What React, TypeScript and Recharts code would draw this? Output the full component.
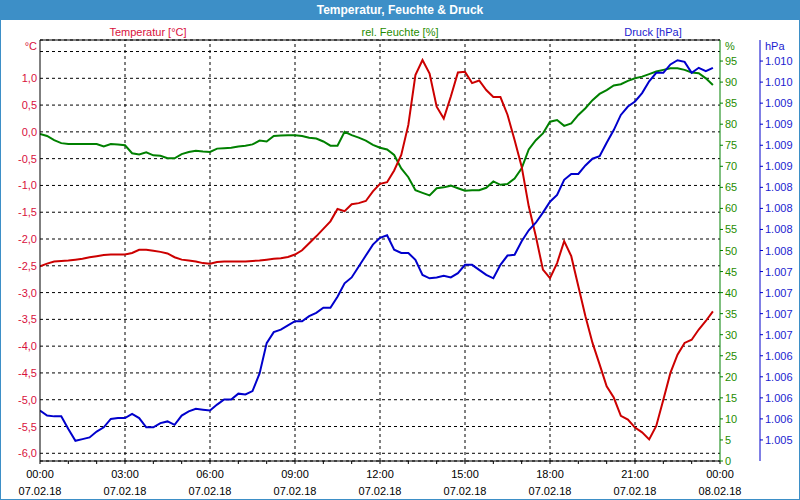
import React from "react";
import { CartesianGrid, Line, LineChart, ReferenceLine, XAxis, YAxis } from "recharts";

// hours since 07.02.18 00:00, quarter-hour readings
const hours = Array.from({ length: 96 }, (_, i) => i * 0.25);

const temperature = [
  -2.51, -2.46, -2.42, -2.41, -2.4, -2.385, -2.37, -2.34, -2.32, -2.3, -2.29, -2.29,
  -2.29, -2.26, -2.2, -2.2, -2.22, -2.24, -2.27, -2.34, -2.385, -2.4, -2.42, -2.45,
  -2.46, -2.43, -2.42, -2.42, -2.42, -2.42, -2.41, -2.4, -2.385, -2.37, -2.36, -2.335,
  -2.29, -2.21, -2.08, -1.95, -1.81, -1.67, -1.44, -1.48, -1.35, -1.33, -1.29, -1.11,
  -0.97, -0.94, -0.72, -0.43, 0.13, 1.06, 1.34, 1.09, 0.47, 0.25, 0.66, 1.11,
  1.12, 0.91, 0.96, 0.78, 0.65, 0.65, 0.32, -0.15, -0.65, -1.39, -1.95, -2.57,
  -2.73, -2.45, -2.04, -2.32, -2.88, -3.44, -3.94, -4.34, -4.75, -4.96, -5.3, -5.37,
  -5.52, -5.61, -5.74, -5.49, -5.0, -4.5, -4.16, -3.94, -3.88, -3.69, -3.53, -3.35
];

const humidity = [
  77.7, 77.2, 76.2, 75.5, 75.3, 75.3, 75.3, 75.3, 75.3, 74.7, 75.3, 75.2,
  75.0, 73.1, 72.8, 73.3, 72.6, 72.5, 71.9, 71.9, 72.9, 73.4, 73.7, 73.5,
  73.4, 74.2, 74.3, 74.4, 74.7, 74.9, 75.2, 76.1, 75.9, 77.2, 77.3, 77.4,
  77.4, 77.2, 76.8, 76.6, 75.9, 74.9, 74.9, 78.2, 77.4, 76.8, 76.1, 75.1,
  74.4, 74.0, 72.7, 69.5, 67.4, 64.3, 63.7, 63.1, 64.8, 65.0, 65.4, 64.8,
  64.2, 64.3, 64.3, 64.9, 66.4, 65.6, 65.8, 67.1, 69.5, 74.0, 76.2, 77.8,
  80.6, 81.0, 79.6, 80.2, 82.2, 83.8, 85.7, 87.2, 88.1, 89.2, 89.5, 90.3,
  90.9, 91.3, 91.9, 92.5, 92.9, 93.3, 93.3, 92.9, 92.3, 92.1, 90.9, 89.3
];

const pressure = [
  1.0056, 1.00554, 1.00553, 1.00553, 1.00538, 1.00524, 1.00526, 1.00528, 1.00535, 1.0054, 1.0055, 1.00551,
  1.00551, 1.00556, 1.00551, 1.0054, 1.0054, 1.00545, 1.00547, 1.00543, 1.00554, 1.00559, 1.00562, 1.00561,
  1.0056, 1.00567, 1.00573, 1.00573, 1.0058, 1.00579, 1.00583, 1.00604, 1.0064, 1.00653, 1.00656, 1.00661,
  1.00666, 1.00666, 1.00672, 1.00676, 1.00682, 1.00682, 1.00695, 1.00711, 1.00718, 1.00731, 1.00744, 1.00757,
  1.00765, 1.00768, 1.00751, 1.00747, 1.00747, 1.00739, 1.00721, 1.00717, 1.00718, 1.0072, 1.00718, 1.00723,
  1.00733, 1.00733, 1.00727, 1.00721, 1.00717, 1.00733, 1.00744, 1.00745, 1.00761, 1.00774, 1.00783, 1.00795,
  1.00808, 1.00816, 1.00834, 1.00841, 1.00841, 1.00851, 1.00859, 1.00862, 1.00878, 1.00893, 1.00911, 1.00921,
  1.00927, 1.00937, 1.00951, 1.00961, 1.00961, 1.00971, 1.00976, 1.00974, 1.00961, 1.00967, 1.00963, 1.00967
];

const hourTicks = [0, 1, 2, 3, 4, 5, 6, 7, 8, 9, 10, 11, 12, 13, 14, 15, 16, 17, 18, 19, 20, 21, 22, 23, 24];
const gridHours = [3, 6, 9, 12, 15, 18, 21];
const timeLabels = ["00:00", "03:00", "06:00", "09:00", "12:00", "15:00", "18:00", "21:00", "00:00"];
const dateLabels = ["07.02.18", "07.02.18", "07.02.18", "07.02.18", "07.02.18", "07.02.18", "07.02.18", "07.02.18", "08.02.18"];

const tempTicks = [-6, -5.5, -5, -4.5, -4, -3.5, -3, -2.5, -2, -1.5, -1, -0.5, 0, 0.5, 1, 1.5];
const humTicks = [0, 5, 10, 15, 20, 25, 30, 35, 40, 45, 50, 55, 60, 65, 70, 75, 80, 85, 90, 95];
const presTicks = [
  1.00525, 1.0055, 1.00575, 1.006, 1.00625, 1.0065, 1.00675, 1.007, 1.00725, 1.0075,
  1.00775, 1.008, 1.00825, 1.0085, 1.00875, 1.009, 1.00925, 1.0095, 1.00975
];

const tempDomain = [-6.144, 1.715];
const humDomain = [0, 100];
const presDomain = [1.005, 1.01];

const RED = "#cc0000";
const RED_TXT = "#d8103c";
const GREEN = "#008000";
const GREEN_TXT = "#1f8c00";
const BLUE = "#0000cc";
const BLUE_TXT = "#1c1cd0";
const FRAME = "#3d8fc7";
const FONT = "'Liberation Sans', Arial, sans-serif";

const data = hours.map((h, i) => ({
  h,
  temp: temperature[i],
  hum: humidity[i],
  pres: pressure[i]
}));

function TimeTick({ x, y, payload }: any) {
  const v = payload.value;
  if (v % 3 !== 0) return <g />;
  const k = v / 3;
  return (
    <g>
      <text x={x} y={y + 12} textAnchor="middle" fontSize={11} fontFamily={FONT} fill="#000">
        {timeLabels[k]}
      </text>
      <text x={x} y={y + 29} textAnchor="middle" fontSize={11} fontFamily={FONT} fill="#000">
        {dateLabels[k]}
      </text>
    </g>
  );
}

function TempTick({ x, y, payload }: any) {
  if (payload.value > 1.2) return <g />;
  return (
    <text x={x} y={y + 4} textAnchor="end" fontSize={11} fontFamily={FONT} fill={RED_TXT}>
      {payload.value.toFixed(1).replace(".", ",")}
    </text>
  );
}

function HumTick({ x, y, payload }: any) {
  return (
    <text x={x} y={y + 4} textAnchor="start" fontSize={11} fontFamily={FONT} fill={GREEN_TXT}>
      {payload.value}
    </text>
  );
}

function PresTick({ x, y, payload }: any) {
  const label = (Math.round(payload.value * 1000 + 1e-6) / 1000).toFixed(3);
  return (
    <text x={x} y={y + 4} textAnchor="start" fontSize={11} fontFamily={FONT} fill={BLUE_TXT}>
      {label}
    </text>
  );
}

const txt = (color: string): React.CSSProperties => ({
  position: "absolute",
  fontFamily: FONT,
  fontSize: 11,
  lineHeight: "14px",
  color,
  whiteSpace: "nowrap"
});

export default function App() {
  return (
    <div style={{ position: "absolute", left: 0, top: 0, width: 800, height: 500, background: "#fff", overflow: "hidden" }}>
      <LineChart
        width={800}
        height={500}
        data={data}
        margin={{ top: 40, right: 0, bottom: 0, left: 0 }}
        style={{ position: "absolute", left: 0, top: 0 }}
      >
        <CartesianGrid yAxisId="temp" vertical={false} stroke="#000" strokeDasharray="3 3" />
        <XAxis
          dataKey="h"
          type="number"
          domain={[0, 24]}
          ticks={hourTicks}
          interval={0}
          height={39}
          axisLine={{ stroke: "#000" }}
          tickLine={{ stroke: "#000" }}
          tickSize={3}
          tickMargin={2}
          tick={<TimeTick />}
          allowDataOverflow
        />
        <YAxis
          yAxisId="temp"
          orientation="left"
          type="number"
          domain={tempDomain}
          ticks={tempTicks}
          interval={0}
          width={40}
          axisLine={{ stroke: "#000" }}
          tickLine={false}
          tickSize={0}
          tickMargin={3}
          tick={<TempTick />}
          allowDataOverflow
        />
        <YAxis
          yAxisId="hum"
          orientation="right"
          type="number"
          domain={humDomain}
          ticks={humTicks}
          interval={0}
          width={40}
          axisLine={{ stroke: GREEN }}
          tickLine={{ stroke: GREEN }}
          tickSize={3}
          tickMargin={2}
          tick={<HumTick />}
          allowDataOverflow
        />
        <YAxis
          yAxisId="pres"
          orientation="right"
          type="number"
          domain={presDomain}
          ticks={presTicks}
          interval={0}
          width={40}
          axisLine={{ stroke: BLUE }}
          tickLine={{ stroke: BLUE }}
          tickSize={3}
          tickMargin={2}
          tick={<PresTick />}
          allowDataOverflow
        />
        {gridHours.map((g) => (
          <ReferenceLine key={g} x={g} yAxisId="temp" stroke="#000" strokeDasharray="3 3" />
        ))}
        <ReferenceLine y={tempDomain[1]} yAxisId="temp" stroke="#000" />
        <Line yAxisId="hum" dataKey="hum" stroke={GREEN} strokeWidth={2} dot={false} type="linear" isAnimationActive={false} />
        <Line yAxisId="temp" dataKey="temp" stroke={RED} strokeWidth={2} dot={false} type="linear" isAnimationActive={false} />
        <Line yAxisId="pres" dataKey="pres" stroke={BLUE} strokeWidth={2} dot={false} type="linear" isAnimationActive={false} />
      </LineChart>

      <div
        style={{
          position: "absolute",
          left: 0,
          top: 0,
          width: 800,
          height: 20,
          background: FRAME,
          color: "#fff",
          fontFamily: FONT,
          fontWeight: "bold",
          fontSize: 12,
          lineHeight: "21px",
          textAlign: "center"
        }}
      >
        Temperatur, Feuchte &amp; Druck
      </div>

      <div style={{ ...txt(RED_TXT), left: 48, top: 25, width: 200, textAlign: "center" }}>Temperatur [°C]</div>
      <div style={{ ...txt(GREEN_TXT), left: 300, top: 25, width: 200, textAlign: "center" }}>rel. Feuchte [%]</div>
      <div style={{ ...txt(BLUE_TXT), left: 553, top: 25, width: 200, textAlign: "center" }}>Druck [hPa]</div>

      <div style={{ ...txt(RED_TXT), left: 0, top: 39, width: 37, textAlign: "right" }}>°C</div>
      <div style={{ ...txt(GREEN_TXT), left: 725, top: 39 }}>%</div>
      <div style={{ ...txt(BLUE_TXT), left: 765, top: 39 }}>hPa</div>

      <div
        style={{
          position: "absolute",
          left: 0,
          top: 0,
          width: 800,
          height: 500,
          boxSizing: "border-box",
          border: `1px solid ${FRAME}`,
          pointerEvents: "none"
        }}
      />
    </div>
  );
}
